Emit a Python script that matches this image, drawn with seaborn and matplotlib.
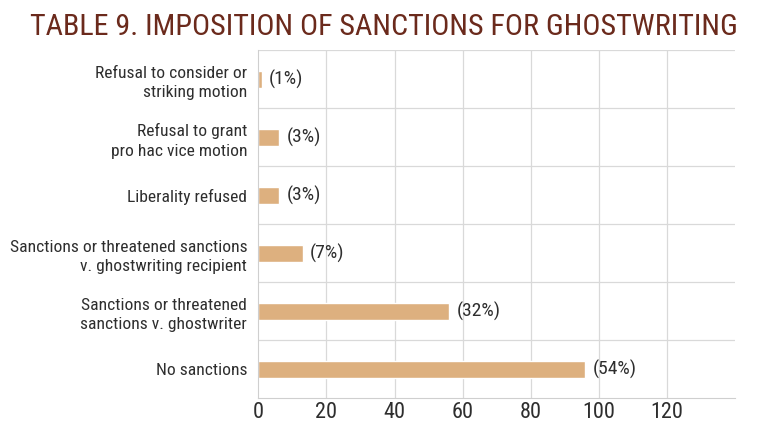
import matplotlib
matplotlib.use("Agg")
import matplotlib.pyplot as plt
from matplotlib import font_manager
import seaborn as sns
import pandas as pd
import numpy as np

# data (counts; share in brackets)
categories = [
    "Refusal to consider or\nstriking motion",
    "Refusal to grant\npro hac vice motion",
    "Liberality refused",
    "Sanctions or threatened sanctions\nv. ghostwriting recipient",
    "Sanctions or threatened\nsanctions v. ghostwriter",
    "No sanctions",
]
counts = [1, 6, 6, 13, 56, 96]
pct_labels = ["(1%)", "(3%)", "(3%)", "(7%)", "(32%)", "(54%)"]
x_ticks = [0, 20, 40, 60, 80, 100, 120]
title = "TABLE 9. IMPOSITION OF SANCTIONS FOR GHOSTWRITING"

df = pd.DataFrame({"category": categories, "count": counts, "label": pct_labels})

sns.set_style("white")
installed = {f.name for f in font_manager.fontManager.ttflist}
narrow = [f for f in ["Liberation Sans Narrow", "Roboto Condensed", "Open Sans Condensed",
                      "Roboto", "Lato"] if f in installed]
plt.rcParams["font.family"] = narrow + ["DejaVu Sans"]

fig = plt.figure(figsize=(7.68, 4.42), dpi=100)
ax = fig.add_axes([0.3364, 0.099, 0.6206, 0.787])

sns.barplot(data=df, y="category", x="count", color="#DDB07F", width=0.3,
            saturation=1, ax=ax, orient="h")

ax.set_xlim(0, 140)
ax.set_ylim(len(categories) - 0.5, -0.5)
ax.set_xticks(x_ticks)
ax.tick_params(axis="x", labelsize=16, colors="#2E2E2E", length=0, pad=3)
ax.tick_params(axis="y", labelsize=12.6, colors="#2E2E2E", length=0, pad=8)
for lab in ax.get_yticklabels():
    lab.set_horizontalalignment("right")
    lab.set_linespacing(1.35)
ax.set_xlabel("")
ax.set_ylabel("")

# grid: vertical lines at ticks, horizontal lines between categories
for xv in x_ticks[1:]:
    ax.axvline(xv, color="#D9D9D9", lw=0.9, zorder=0)
for yb in np.arange(-0.5, len(categories) - 0.5, 1.0):
    ax.axhline(yb, color="#D9D9D9", lw=0.9, zorder=0)

for side in ["top", "right"]:
    ax.spines[side].set_visible(False)
ax.spines["left"].set_color("#CFCFCF")
ax.spines["bottom"].set_color("#CFCFCF")

for i, (c, t) in enumerate(zip(counts, pct_labels)):
    ax.text(c + 2.2, i, t, va="center", ha="left", fontsize=14, color="#2E2E2E")

ttl = fig.text(0.5, 0.94, title, ha="center", va="center", fontsize=20, color="#6B2A1C")
# scale title to the reference width (~708 px)
fig.canvas.draw()
w = ttl.get_window_extent().width
ttl.set_fontsize(20 * 708 / w)

fig.savefig("out.png", dpi=100, facecolor="white")
